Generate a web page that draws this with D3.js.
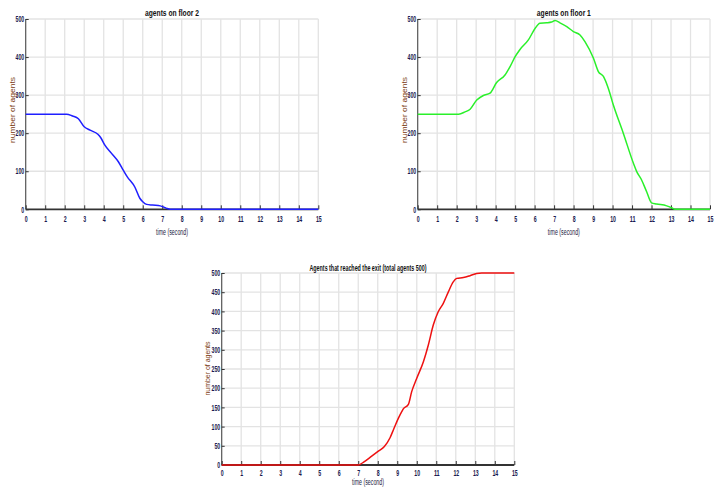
<!DOCTYPE html>
<html><head><meta charset="utf-8">
<script src="https://cdn.jsdelivr.net/npm/d3@7"></script>
<style>
html,body{margin:0;padding:0;background:#fff;}
svg{display:block;font-family:"Liberation Sans",Arial,sans-serif;}
</style></head>
<body>
<svg id="c" width="723" height="492"></svg>
<script>
// ---- data ----
const xTicks = [0,1,2,3,4,5,6,7,8,9,10,11,12,13,14,15];
const yTicksFloor = [0,100,200,300,400,500];
const yTicksExit = [0,50,100,150,200,250,300,350,400,450,500];

const floor2Time   = [0,2.1,2.4,2.7,3.0,3.3,3.7,3.85,4.05,4.4,4.75,5.0,5.2,5.6,5.85,6.0,6.2,6.5,6.9,7.2,7.4,15];
const floor2Agents = [250,250,245,238,217,208,197,188,169,147,125,103,86,58,29,20,13,11,9,3,0,0];

const floor1Time   = [0,2.1,2.43,2.69,3.03,3.37,3.71,4.05,4.48,4.74,5.0,5.25,5.68,6.02,6.27,6.62,6.87,7.05,7.3,7.65,7.99,8.33,8.59,9.02,9.27,9.53,9.78,10.04,10.55,11.07,11.24,11.49,11.75,12.0,12.26,12.78,13.03,13.2,15];
const floor1Agents = [250,250,256,263,287,299,305,333,353,375,401,420,445,475,489,490,492,496,490,480,467,458,440,397,362,349,318,274,200,121,99,77,46,17,14,9,4,0,0];

const exitTime   = [0,7.0,7.26,7.69,8.03,8.34,8.63,8.83,9.06,9.23,9.31,9.57,9.74,10.0,10.34,10.59,10.85,11.1,11.36,11.62,11.87,12.05,12.39,12.73,13.07,13.33,15];
const exitAgents = [0,0,7,23,36,48,71,95,122,139,146,158,191,226,269,312,365,399,421,451,477,486,488,493,499,500,500];

const panels = [
  {title:"agents on floor 2", t:floor2Time, v:floor2Agents, yt:yTicksFloor, color:"#1f1fff",
   x0:25.7, x1:318.3, y0:209.3, y1:19, titleY:16, tickY:222.5, labelY:235, ylabX:12, ylabY:110, ylabW:66, titleW:54},
  {title:"agents on floor 1", t:floor1Time, v:floor1Agents, yt:yTicksFloor, color:"#2af02a",
   x0:417.7, x1:710, y0:209.3, y1:19, titleY:16, tickY:222.5, labelY:235, ylabX:404, ylabY:110, ylabW:66, titleW:54},
  {title:"Agents that reached the exit (total agents 500)", t:exitTime, v:exitAgents, yt:yTicksExit, color:"#ee1111",
   x0:221.7, x1:514.3, y0:465, y1:273, titleY:271, tickY:476, labelY:484.5, ylabX:207, ylabY:368.5, ylabW:54, titleW:117}
];

const svg = d3.select("#c");
const fit = (sel, w) => sel.attr("textLength", w).attr("lengthAdjust","spacingAndGlyphs");
const CH = 2.9; // width per tick-label character

panels.forEach(p => {
  const x = d3.scaleLinear().domain([0,15]).range([p.x0,p.x1]);
  const y = d3.scaleLinear().domain([0,500]).range([p.y0,p.y1]);
  const g = svg.append("g");

  // grid
  g.selectAll(".vg").data(xTicks.filter(d=>d>0)).enter().append("line")
    .attr("x1",d=>x(d)).attr("x2",d=>x(d)).attr("y1",y(0)).attr("y2",y(500))
    .attr("stroke","#e3e3e3").attr("stroke-width",1.3);
  g.selectAll(".hg").data(p.yt.filter(d=>d>0)).enter().append("line")
    .attr("x1",x(0)).attr("x2",x(15)).attr("y1",d=>y(d)).attr("y2",d=>y(d))
    .attr("stroke","#e3e3e3").attr("stroke-width",1.3);

  // left axis
  const ya = d3.axisLeft(y).tickValues(p.yt).tickSize(-3).tickPadding(1.5).tickFormat(d3.format("d"));
  const yg = g.append("g").attr("transform",`translate(${x(0)},0)`).call(ya);
  yg.select(".domain").attr("stroke","#555").attr("stroke-width",1.2).attr("d",`M0,${y(0)}V${y(500)}`);
  yg.selectAll(".tick line").attr("stroke","#333").attr("stroke-width",1);
  yg.selectAll(".tick text").attr("fill","#1a1a50").attr("font-size","8.5px").attr("font-weight","bold")
    .attr("font-family","Liberation Sans, Arial, sans-serif").attr("x",-1.5)
    .each(function(d){ fit(d3.select(this), String(d).length*CH); });

  // bottom axis
  const xa = d3.axisBottom(x).tickValues(xTicks).tickSize(-4).tickPadding(3).tickFormat(d3.format("d"));
  const xg = g.append("g").attr("transform",`translate(0,${y(0)})`).call(xa);
  xg.select(".domain").attr("stroke","#333").attr("stroke-width",1.8).attr("d",`M${x(0)},0H${x(15)}`);
  xg.selectAll(".tick line").attr("stroke","#333").attr("stroke-width",1);
  xg.selectAll(".tick text").attr("fill","#1a1a50").attr("font-size","8.5px").attr("font-weight","bold")
    .attr("font-family","Liberation Sans, Arial, sans-serif")
    .attr("y",p.tickY - y(0)).attr("dy",null)
    .each(function(d){ fit(d3.select(this), String(d).length*CH); });

  // line
  const line = d3.line().x((d,i)=>x(p.t[i])).y(d=>y(d)).curve(d3.curveMonotoneX);
  g.append("path").datum(p.v).attr("d",line).attr("fill","none")
    .attr("stroke",p.color).attr("stroke-width",1.5);

  // title
  fit(g.append("text").attr("x",(p.x0+p.x1)/2).attr("y",p.titleY).attr("text-anchor","middle")
    .attr("font-size","8.5px").attr("font-weight","bold").attr("fill","#111").text(p.title), p.titleW);
  // x label
  fit(g.append("text").attr("x",(p.x0+p.x1)/2).attr("y",p.labelY).attr("text-anchor","middle")
    .attr("font-size","8.5px").attr("fill","#1a1a40").text("time (second)"), 32);
  // y label
  fit(g.append("text").attr("transform",`translate(${p.ylabX},${p.ylabY}) rotate(-90)`)
    .attr("text-anchor","middle").attr("dy","0.35em")
    .attr("font-size","8px").attr("fill","#7a3a10").text("number of agents"), p.ylabW);
});
</script>
</body></html>
